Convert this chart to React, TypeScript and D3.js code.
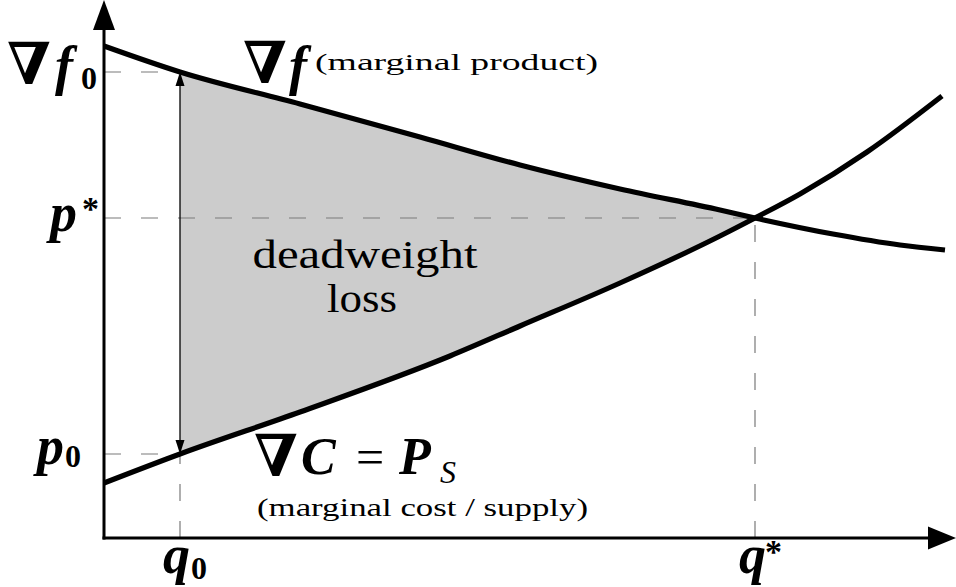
import React from "react";
import * as d3 from "d3";

// Curves (quantity, price)
const demandQ = [0, 7.6, 19.6, 31.6, 41.6, 51.6, 61.6, 65.1, 72.9, 79.6, 84.1];
const demandP = [49.2, 46.6, 43.4, 40.1, 37.3, 34.9, 32.8, 32.0, 30.4, 29.3, 28.8];
const supplyQ = [0, 7.6, 19.6, 34.6, 41.6, 51.6, 61.6, 65.1, 69.6, 76.3, 83.8];
const supplyP = [5.5, 8.4, 12.6, 18.2, 21.2, 25.5, 30.2, 32.0, 34.4, 38.6, 44.2];

const q0 = 7.6;
const qStar = 65.1;
const p0 = 8.4;
const pStar = 32.0;
const f0 = 46.6;

const W = 956;
const H = 587;

const SERIF = "Liberation Serif";
const NABLA = "DejaVu Serif";

const bi = { fontFamily: SERIF, fontWeight: 700, fontStyle: "italic" } as const;
const bu = { fontFamily: SERIF, fontWeight: 700 } as const;
const rm = { fontFamily: SERIF, fontWeight: 400 } as const;
const nb = { fontFamily: NABLA, fontWeight: 700 } as const;

export default function App() {
  const x = d3.scaleLinear().domain([0, 85.2]).range([104, 956]);
  const y = d3.scaleLinear().domain([0, 53.8]).range([538, 0]);

  const demand = demandQ.map((q, i) => [q, demandP[i]] as [number, number]);
  const supply = supplyQ.map((q, i) => [q, supplyP[i]] as [number, number]);

  const line = d3
    .line<[number, number]>()
    .x((d) => x(d[0]))
    .y((d) => y(d[1]))
    .curve(d3.curveMonotoneX);

  const belowDemand = d3
    .area<[number, number]>()
    .x((d) => x(d[0]))
    .y0(y(0))
    .y1((d) => y(d[1]))
    .curve(d3.curveMonotoneX);

  const aboveSupply = d3
    .area<[number, number]>()
    .x((d) => x(d[0]))
    .y0(y(53.8))
    .y1((d) => y(d[1]))
    .curve(d3.curveMonotoneX);

  const ox = x(0);
  const oy = y(0);
  const dash = "17 20";
  const dashColor = "#7a7a7a";

  const ax = x(q0);
  const aTop = y(f0);
  const aBot = y(p0);

  return (
    <svg
      width={W}
      height={H}
      style={{ position: "absolute", left: 0, top: 0, background: "#fff" }}
    >
      <defs>
        <clipPath id="belowDemand">
          <path d={belowDemand(demand) || ""} />
        </clipPath>
        <clipPath id="rightOfQ0">
          <rect x={x(q0)} y={0} width={x(qStar) - x(q0) + 2} height={H} />
        </clipPath>
      </defs>

      {/* shaded deadweight loss */}
      <g clipPath="url(#rightOfQ0)">
        <g clipPath="url(#belowDemand)">
          <path d={aboveSupply(supply) || ""} fill="#cccccc" />
        </g>
      </g>

      {/* dashed guide lines */}
      <g stroke={dashColor} strokeWidth={1.2} strokeDasharray={dash} fill="none">
        <line x1={ox} y1={y(f0)} x2={x(q0)} y2={y(f0)} />
        <line x1={ox} y1={y(p0)} x2={x(q0)} y2={y(p0)} />
        <line x1={x(q0)} y1={oy} x2={x(q0)} y2={y(p0)} />
        <line x1={ox} y1={y(pStar)} x2={x(qStar)} y2={y(pStar)} />
        <line x1={x(qStar)} y1={oy} x2={x(qStar)} y2={y(pStar)} />
      </g>

      {/* double arrow */}
      <line x1={ax} y1={aTop + 10} x2={ax} y2={aBot - 10} stroke="#000" strokeWidth={1.3} />
      <path d={`M${ax},${aTop} L${ax - 4.5},${aTop + 14} L${ax + 4.5},${aTop + 14} Z`} fill="#000" />
      <path d={`M${ax},${aBot} L${ax - 4.5},${aBot - 14} L${ax + 4.5},${aBot - 14} Z`} fill="#000" />

      {/* curves */}
      <path d={line(demand) || ""} fill="none" stroke="#000" strokeWidth={5.2} />
      <path d={line(supply) || ""} fill="none" stroke="#000" strokeWidth={5.2} />

      {/* axes */}
      <line x1={ox} y1={oy + 1.5} x2={ox} y2={25} stroke="#000" strokeWidth={3} />
      <line x1={ox - 1.5} y1={oy} x2={932} y2={oy} stroke="#000" strokeWidth={3} />
      <path d={`M${ox},0 L${ox - 11},30 L${ox + 11},30 Z`} fill="#000" />
      <path d={`M956,${oy} L928,${oy - 11.5} L928,${oy + 11.5} Z`} fill="#000" />

      {/* axis labels */}
      <g fill="#000">
        <text x={7} y={84} style={nb} fontSize={58}>∇</text>
        <text x={55} y={84} style={bi} fontSize={54}>f</text>
        <text x={81} y={89} style={bu} fontSize={32}>0</text>

        <text x={50} y={231} style={bi} fontSize={54}>p</text>
        <text x={82} y={220} style={bu} fontSize={34}>*</text>

        <text x={37} y={464} style={bi} fontSize={54}>p</text>
        <text x={65} y={467} style={bu} fontSize={32}>0</text>

        <text x={163} y={573} style={bi} fontSize={54}>q</text>
        <text x={191} y={579} style={bu} fontSize={32}>0</text>

        <text x={739} y={573} style={bi} fontSize={54}>q</text>
        <text x={765} y={563} style={bu} fontSize={34}>*</text>
      </g>

      {/* curve labels */}
      <g fill="#000">
        <text x={243} y={83} style={nb} fontSize={58}>∇</text>
        <text x={289} y={84} style={bi} fontSize={54}>f</text>
        <text x={315} y={70} style={rm} fontSize={24} textLength={283} lengthAdjust="spacingAndGlyphs">
          (marginal product)
        </text>

        <text x={254} y={476} style={nb} fontSize={58}>∇</text>
        <text x={301} y={474} style={bi} fontSize={52}>C</text>
        <text x={356} y={474} style={rm} fontSize={50}>=</text>
        <text x={399} y={474} style={bi} fontSize={52}>P</text>
        <text x={440} y={483} style={{ ...rm, fontStyle: "italic" }} fontSize={32}>S</text>
        <text x={257} y={516} style={rm} fontSize={25} textLength={331} lengthAdjust="spacingAndGlyphs">
          (marginal cost / supply)
        </text>

        <text x={365} y={268} textAnchor="middle" style={rm} fontSize={40} textLength={225} lengthAdjust="spacingAndGlyphs">
          deadweight
        </text>
        <text x={362} y={312} textAnchor="middle" style={rm} fontSize={40} textLength={70} lengthAdjust="spacingAndGlyphs">
          loss
        </text>
      </g>
    </svg>
  );
}
